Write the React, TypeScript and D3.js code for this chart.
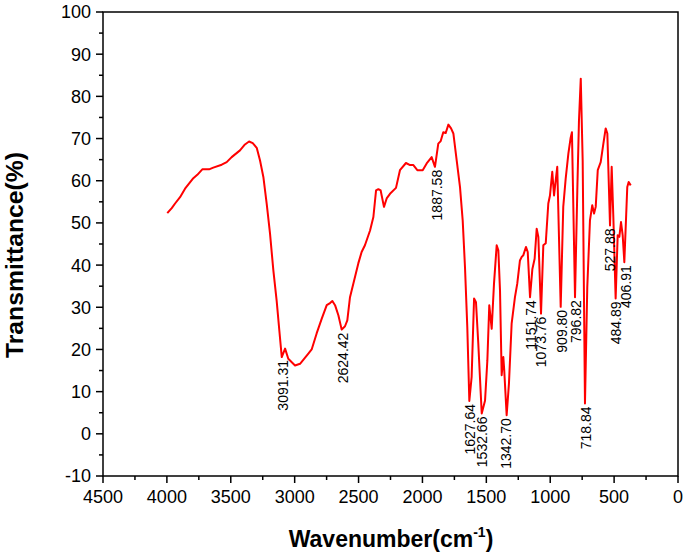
import React, { useEffect, useRef } from "react";
import * as d3 from "d3";

const wavenumbers: number[] = [
  3997, 3962, 3936, 3897, 3858, 3793, 3762, 3723, 3670, 3637, 3571, 3532, 3493, 3428, 3389, 3357, 3328, 3297,
  3271, 3245, 3219, 3193, 3167, 3141, 3120, 3101, 3075, 3050, 2997, 2958, 2893, 2867, 2828, 2788, 2749, 2723,
  2705, 2684, 2658, 2632, 2606, 2588, 2567, 2541, 2502, 2476, 2450, 2410, 2384, 2363, 2345, 2327, 2301, 2280,
  2254, 2207, 2176, 2129, 2097, 2071, 2040, 1998, 1967, 1928, 1902, 1876, 1857, 1837, 1818, 1797, 1776, 1758,
  1732, 1706, 1685, 1667, 1649, 1633, 1615, 1596, 1581, 1563, 1536, 1510, 1492, 1477, 1458, 1440, 1419, 1406,
  1393, 1380, 1367, 1360, 1341, 1323, 1302, 1276, 1258, 1237, 1224, 1211, 1190, 1176, 1158, 1140, 1122, 1106,
  1093, 1072, 1054, 1035, 1015, 1002, 984, 970, 963, 945, 918, 898, 879, 858, 840, 830, 806, 788, 775, 761, 746,
  728, 710, 689, 671, 657, 644, 628, 605, 584, 566, 553, 532, 519, 506, 488, 472, 459, 446, 433, 420, 397, 386,
  370,
];

const transmittance: number[] = [
  52.3, 53.5, 54.6, 56.1, 58.1, 60.6, 61.4, 62.7, 62.7, 63.1, 63.8, 64.4, 65.6, 67.2, 68.6, 69.3, 68.9, 67.8,
  64.8, 60.9, 54.6, 47.5, 38.8, 31.6, 24.5, 18.2, 20.2, 17.8, 16.2, 16.6, 19.0, 20.0, 23.8, 27.3, 30.5, 31.0,
  31.5, 30.5, 28.1, 24.7, 25.5, 26.9, 32.4, 35.6, 40.4, 43.1, 44.7, 48.2, 51.4, 57.7, 58.0, 57.7, 53.8, 55.8,
  56.9, 58.3, 62.5, 64.2, 63.7, 63.7, 62.5, 62.5, 64.1, 65.6, 63.3, 68.8, 69.4, 71.5, 71.3, 73.3, 72.4, 71.2,
  64.8, 58.5, 50.6, 39.5, 25.3, 7.8, 13.5, 32.1, 31.2, 21.4, 4.8, 7.9, 17.4, 30.5, 24.9, 35.6, 44.7, 43.5,
  34.0, 13.9, 18.2, 15.1, 4.4, 11.9, 26.1, 32.4, 35.6, 41.1, 41.9, 42.3, 44.3, 43.1, 32.4, 39.0, 41.5, 48.6,
  46.7, 28.5, 44.7, 45.2, 54.6, 56.5, 62.1, 56.5, 58.5, 63.3, 30.1, 53.8, 60.5, 66.4, 70.2, 71.5, 32.4, 57.7, 74.3, 84.2, 64.8,
  7.2, 34.8, 50.6, 54.2, 52.2, 53.8, 62.5, 64.4, 68.8, 72.4, 71.2, 49.4, 63.3, 51.4, 32.1, 47.1, 46.7, 50.2, 47.1, 40.7, 58.5, 59.7,
  58.9,
];

const peakLabels: string[] = [
  "3091.31", "2624.42", "1887.58", "1627.64", "1532.66", "1342.70", "1151.74",
  "1073.76", "909.80", "796.82", "718.84", "527.88", "484.89", "406.91",
];
const peakMinT: number[] = [18.2, 24.7, 63.3, 7.8, 4.8, 4.4, 32.4, 28.5, 30.1, 32.4, 7.2, 49.4, 32.1, 40.7];

const xMajorTicks: number[] = [4500, 4000, 3500, 3000, 2500, 2000, 1500, 1000, 500, 0];
const xMinorTicks: number[] = [4250, 3750, 3250, 2750, 2250, 1750, 1250, 750, 250];
const yMajorTicks: number[] = [-10, 0, 10, 20, 30, 40, 50, 60, 70, 80, 90, 100];
const yMinorTicks: number[] = [-5, 5, 15, 25, 35, 45, 55, 65, 75, 85, 95];

const W = 685;
const H = 555;
const FONT = "'Liberation Sans', Arial, Helvetica, sans-serif";

export default function App() {
  const ref = useRef<SVGSVGElement | null>(null);

  useEffect(() => {
    const svg = d3.select(ref.current);
    svg.selectAll("*").remove();

    const x = d3.scaleLinear().domain([4500, 0]).range([103, 678]);
    const y = d3.scaleLinear().domain([-10, 100]).range([476, 12]);

    const g = svg.append("g");

    // frame
    g.append("rect")
      .attr("x", x(4500))
      .attr("y", y(100))
      .attr("width", x(0) - x(4500))
      .attr("height", y(-10) - y(100))
      .attr("fill", "none")
      .attr("stroke", "#000")
      .attr("stroke-width", 1.5);

    // y axis
    const yAxis = g.append("g").attr("transform", `translate(${x(4500)},0)`);
    yAxis.selectAll("line.maj").data(yMajorTicks).enter().append("line")
      .attr("x1", -7).attr("x2", 0)
      .attr("y1", (d) => y(d)).attr("y2", (d) => y(d))
      .attr("stroke", "#000").attr("stroke-width", 1.5);
    yAxis.selectAll("line.min").data(yMinorTicks).enter().append("line")
      .attr("x1", -4).attr("x2", 0)
      .attr("y1", (d) => y(d)).attr("y2", (d) => y(d))
      .attr("stroke", "#000").attr("stroke-width", 1.5);
    yAxis.selectAll("text").data(yMajorTicks).enter().append("text")
      .attr("x", -12).attr("y", (d) => y(d)).attr("dy", "0.36em")
      .attr("text-anchor", "end")
      .attr("font-family", FONT).attr("font-size", 18)
      .text((d) => String(d));

    // x axis
    const xAxis = g.append("g").attr("transform", `translate(0,${y(-10)})`);
    xAxis.selectAll("line.maj").data(xMajorTicks).enter().append("line")
      .attr("x1", (d) => x(d)).attr("x2", (d) => x(d))
      .attr("y1", 0).attr("y2", 7)
      .attr("stroke", "#000").attr("stroke-width", 1.5);
    xAxis.selectAll("line.min").data(xMinorTicks).enter().append("line")
      .attr("x1", (d) => x(d)).attr("x2", (d) => x(d))
      .attr("y1", 0).attr("y2", 4)
      .attr("stroke", "#000").attr("stroke-width", 1.5);
    xAxis.selectAll("text").data(xMajorTicks).enter().append("text")
      .attr("x", (d) => x(d)).attr("y", 27)
      .attr("text-anchor", "middle")
      .attr("font-family", FONT).attr("font-size", 18)
      .text((d) => String(d));

    // spectrum line
    const pts: [number, number][] = wavenumbers.map((w, i) => [w, transmittance[i]]);
    const line = d3.line<[number, number]>()
      .x((d) => x(d[0]))
      .y((d) => y(d[1]));
    g.append("path")
      .attr("d", line(pts) || "")
      .attr("fill", "none")
      .attr("stroke", "#ff0000")
      .attr("stroke-width", 2)
      .attr("stroke-linejoin", "round");

    // peak labels
    peakLabels.forEach((lab, i) => {
      const px = x(parseFloat(lab));
      const py = y(peakMinT[i]) + 3;
      g.append("text")
        .attr("transform", `translate(${px},${py}) rotate(-90)`)
        .attr("text-anchor", "end")
        .attr("dy", "0.35em")
        .attr("font-family", FONT)
        .attr("font-size", 14)
        .attr("fill", "#000")
        .text(lab);
    });

    // axis titles
    g.append("text")
      .attr("transform", `translate(23,255) rotate(-90)`)
      .attr("text-anchor", "middle")
      .attr("font-family", FONT)
      .attr("font-weight", "bold")
      .attr("font-size", 23)
      .attr("textLength", 206)
      .attr("lengthAdjust", "spacingAndGlyphs")
      .text("Transmittance(%)");

    const xt = g.append("text")
      .attr("x", 391)
      .attr("y", 547)
      .attr("text-anchor", "middle")
      .attr("font-family", FONT)
      .attr("font-weight", "bold")
      .attr("font-size", 23);
    xt.append("tspan").text("Wavenumber(cm");
    xt.append("tspan").attr("font-size", 14).attr("dy", -10).text("-1");
    xt.append("tspan").attr("dy", 10).text(")");
  }, []);

  return (
    <svg
      ref={ref}
      width={W}
      height={H}
      style={{ position: "absolute", left: 0, top: 0, background: "#fff" }}
    />
  );
}
